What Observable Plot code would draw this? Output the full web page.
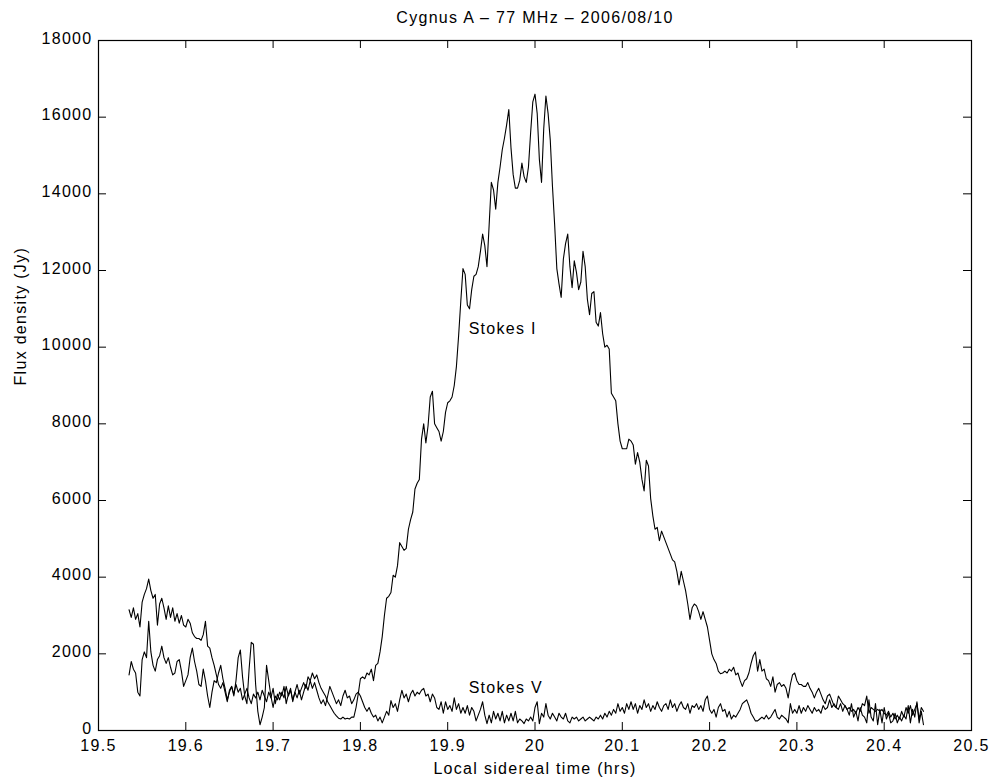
<!DOCTYPE html>
<html>
<head>
<meta charset="utf-8">
<script src="https://cdn.jsdelivr.net/npm/d3@7"></script>
<script src="https://cdn.jsdelivr.net/npm/@observablehq/plot@0.6"></script>
<style>
  html, body { margin: 0; padding: 0; background: #fff; }
</style>
</head>
<body>
<div id="chart"></div>
<script>
// ---- Data ----
const titleText = "Cygnus A \u2013 77 MHz \u2013 2006/08/10";
const xLabelText = "Local sidereal time (hrs)";
const yLabelText = "Flux density (Jy)";

// sampling times: regular grid starting at t0 with step dt (hours)
const t0 = 19.535;
const dt = 0.0025;

const fluxI = [
  3150, 2950, 3200, 2900, 3050, 2700, 3350, 3550, 3700, 3950,
  3650, 3450, 3550, 2750, 3300, 3450, 3200, 2900, 3250, 2950,
  3200, 2850, 3050, 2800, 3000, 2750, 2700, 2900, 2800, 2550,
  2450, 2400, 2400, 2350, 2500, 2850, 2200, 2150, 1900, 1700,
  1450, 1200, 1100, 1250, 1000, 750, 1050, 1150, 950, 1200,
  1000, 1100, 800, 950, 1100, 850, 700, 950, 850, 1000,
  800, 1050, 900, 750, 1000, 850, 1100, 700, 950, 800,
  1000, 850, 1150, 900, 1050, 800, 1000, 1200, 950, 1100,
  1250, 1100, 1400, 1300, 1500, 1350, 1450, 1250, 1100, 1000,
  900, 750, 650, 550, 450, 380, 320, 300, 350, 300,
  320, 300, 350, 350, 600, 950, 1350, 1400, 1350, 1500,
  1450, 1600, 1300, 1700, 1750, 2050, 2450, 3000, 3450, 3500,
  3600, 4050, 4000, 4300, 4900, 4800, 4700, 4750, 5250, 5500,
  5700, 6300, 6450, 6550, 7600, 8000, 7500, 7950, 8700, 8850,
  8000, 7900, 7800, 7550, 7800, 8300, 8550, 8600, 8700, 9000,
  9500, 10300, 11200, 12050, 11900, 11100, 11000, 11500, 11850, 11900,
  12100, 12500, 12950, 12650, 12100, 13200, 14300, 14100, 13600, 14300,
  14700, 15150, 15450, 15800, 16200, 15200, 14500, 14150, 14150, 14350,
  14800, 14450, 14300, 14700, 15600, 16400, 16600, 16100, 14900, 14300,
  15700, 16550, 16100, 15400, 14200, 13200, 12050, 11650, 11300, 12300,
  12700, 12950, 12100, 11550, 12250, 11950, 11500, 11700, 12500, 12100,
  11250, 10850, 11400, 11450, 10650, 10550, 10900, 10350, 10000, 10050,
  9950, 8800, 8700, 8600, 8000, 7550, 7350, 7350, 7350, 7600,
  7550, 7450, 6950, 7250, 7000, 6550, 6250, 7050, 6900, 6050,
  5600, 5250, 5300, 4950, 5200, 5050, 4900, 4750, 4600, 4450,
  4400, 4150, 3800, 4150, 3900, 3650, 3300, 2900, 3200, 3300,
  3250, 3100, 2900, 3100, 2900, 2700, 2350, 2000, 1850, 1750,
  1550, 1480, 1500, 1550, 1500, 1600, 1550, 1650, 1450, 1500,
  1300, 1150, 1300, 1350, 1500, 1750, 1950, 2050, 1550, 1850,
  1550, 1600, 1350, 1300, 1150, 1400, 1000, 1200, 1250, 1150,
  1200, 1100, 850, 1200, 1450, 1500, 1300, 1200, 1200, 1150,
  1150, 1250, 1100, 1000, 850, 1000, 1100, 950, 800, 700,
  900, 950, 800, 650, 600, 900, 800, 700, 650, 550,
  600, 500, 550, 450, 600, 500, 700, 650, 900, 450,
  600, 550, 500, 550, 500, 550, 450, 400, 500, 350,
  450, 300, 400, 300, 500, 350, 600, 450, 650, 400,
  550, 700, 300, 600, 500
];

const fluxV = [
  1450, 1800, 1600, 1500, 1000, 900, 1850, 2050, 1900, 2850,
  2050, 1700, 1550, 1850, 1950, 2200, 1900, 1750, 1900, 1650,
  1450, 1500, 1800, 1850, 1550, 1150, 1300, 1450, 1900, 2150,
  1800, 1550, 1200, 1150, 1600, 1300, 900, 600, 1000, 1300,
  1250, 1500, 1700, 1350, 1100, 800, 1000, 1150, 900, 1300,
  1900, 2100, 1400, 900, 700, 1600, 2300, 2250, 1200, 500,
  150, 350, 600, 1700, 1300, 900, 600, 900, 800, 1000,
  900, 1150, 700, 950, 1100, 750, 1000, 850, 1050, 800,
  1000, 1200, 1050, 1300, 1100, 1250, 1050, 850, 700, 800,
  650, 900, 1150, 1000, 850, 700, 800, 650, 900, 1050,
  850, 900, 700, 800, 950, 1000, 900, 750, 600, 500,
  600, 450, 350, 400, 250, 350, 200, 350, 500, 400,
  780, 600, 700, 500, 800, 1050, 850, 950, 750, 950,
  1050, 900, 1000, 950, 1050, 1100, 900, 950, 750, 950,
  850, 600, 550, 750, 450, 750, 550, 650, 500, 850,
  550, 700, 450, 600, 450, 650, 400, 600, 500, 250,
  400, 550, 750, 400, 180, 400, 200, 500, 300, 450,
  250, 500, 200, 400, 250, 450, 250, 500, 200, 300,
  250, 180, 300, 250, 350, 250, 600, 750, 180, 450,
  350, 700, 400, 300, 450, 350, 250, 450, 350, 300,
  450, 250, 200, 350, 300, 350, 250, 300, 350, 250,
  300, 350, 300, 250, 350, 300, 400, 300, 450, 350,
  500, 400, 550, 450, 700, 500, 600, 450, 700, 550,
  750, 550, 700, 450, 650, 550, 800, 600, 700, 500,
  650, 550, 750, 600, 500, 650, 700, 550, 800, 600,
  700, 500, 650, 750, 600, 550, 700, 450, 650, 600,
  700, 550, 650, 500, 800, 900, 550, 450, 550, 350,
  600, 700, 500, 550, 350, 500, 300, 400, 350, 450,
  550, 700, 750, 800, 650, 450, 350, 250, 250, 300,
  350, 300, 400, 300, 350, 450, 550, 350, 300, 400,
  350, 300, 200, 700, 450, 550, 450, 650, 450, 600,
  500, 650, 550, 450, 600, 500, 550, 450, 650, 550,
  600, 800, 600, 700, 600, 550, 700, 500, 650, 550,
  400, 700, 350, 500, 250, 600, 400, 350, 200, 800,
  350, 250, 700, 150, 550, 200, 600, 300, 450, 200,
  250, 450, 200, 350, 250, 400, 300, 650, 200, 550,
  350, 750, 200, 500, 150
];

const xTicks = [19.5, 19.6, 19.7, 19.8, 19.9, 20, 20.1, 20.2, 20.3, 20.4, 20.5];
const xTickLabels = ["19.5", "19.6", "19.7", "19.8", "19.9", "20", "20.1", "20.2", "20.3", "20.4", "20.5"];
const yTicks = [0, 2000, 4000, 6000, 8000, 10000, 12000, 14000, 16000, 18000];
const yTickLabels = ["0", "2000", "4000", "6000", "8000", "10000", "12000", "14000", "16000", "18000"];

const seriesLabels = ["Stokes I", "Stokes V"];
const seriesLabelX = [19.924, 19.924];
const seriesLabelY = [10470, 1110];

// ---- Build tables ----
const rowsI = fluxI.map((v, i) => ({t: t0 + i * dt, v}));
const rowsV = fluxV.map((v, i) => ({t: t0 + i * dt, v}));
const xTickRows = xTicks.map((x, i) => ({x, label: xTickLabels[i]}));
const yTickRows = yTicks.map((y, i) => ({y, label: yTickLabels[i]}));
const labelRows = seriesLabels.map((s, i) => ({x: seriesLabelX[i], y: seriesLabelY[i], s}));

const W = 991, H = 784;
const mL = 98, mR = 20, mT = 40, mB = 54;
const plotW = W - mL - mR, plotH = H - mT - mB;
const tickLen = 8;

const chart = Plot.plot({
  width: W,
  height: H,
  marginLeft: mL,
  marginRight: mR,
  marginTop: mT,
  marginBottom: mB,
  x: {domain: [19.5, 20.5], axis: null},
  y: {domain: [0, 18000], axis: null},
  style: {
    fontFamily: "'Liberation Sans', Arial, Helvetica, sans-serif",
    fontSize: "16px",
    letterSpacing: "1.3px",
    color: "#000",
    background: "#fff",
    overflow: "visible"
  },
  marks: [
    Plot.line(rowsI, {x: "t", y: "v", stroke: "#000", strokeWidth: 1.1}),
    Plot.line(rowsV, {x: "t", y: "v", stroke: "#000", strokeWidth: 1.1}),
    // inward ticks on all four sides
    Plot.tickX(xTickRows, {x: "x", insetTop: plotH - tickLen, stroke: "#000"}),
    Plot.tickX(xTickRows, {x: "x", insetBottom: plotH - tickLen, stroke: "#000"}),
    Plot.tickY(yTickRows, {y: "y", insetRight: plotW - tickLen, stroke: "#000"}),
    Plot.tickY(yTickRows, {y: "y", insetLeft: plotW - tickLen, stroke: "#000"}),
    Plot.frame({stroke: "#000", strokeWidth: 1.2}),
    // tick labels
    Plot.text(xTickRows, {x: "x", text: "label", frameAnchor: "bottom", dy: 20, fill: "#000"}),
    Plot.text(yTickRows, {y: "y", text: "label", frameAnchor: "left", dx: -6, dy: -2, textAnchor: "end", fill: "#000"}),
    // series labels
    Plot.text(labelRows, {x: "x", y: "y", text: "s", textAnchor: "start", fill: "#000"}),
    // title and axis labels
    Plot.text([titleText], {text: d => d, frameAnchor: "top", dy: -29, fill: "#000"}),
    Plot.text([xLabelText], {text: d => d, frameAnchor: "bottom", dy: 43, fill: "#000"}),
    Plot.text([yLabelText], {text: d => d, frameAnchor: "left", dx: -78, rotate: -90, fill: "#000"})
  ]
});
document.getElementById("chart").appendChild(chart);
</script>
</body>
</html>
